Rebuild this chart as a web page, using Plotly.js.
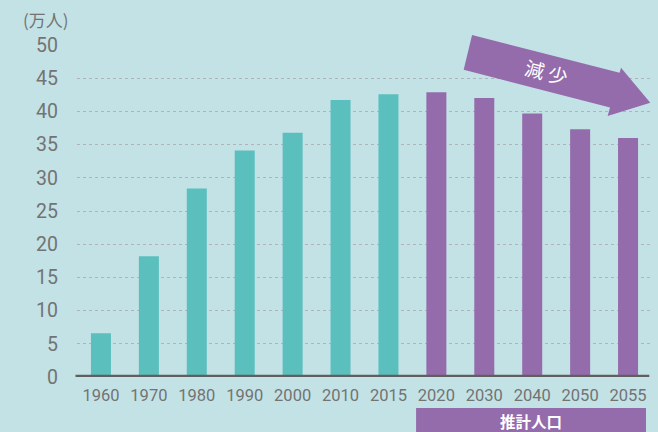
<!DOCTYPE html>
<html>
<head>
<meta charset="utf-8">
<script src="https://cdn.plot.ly/plotly-3.0.1.min.js"></script>
<style>
html,body{margin:0;padding:0;background:#c3e2e6;}
#chart{width:658px;height:432px;}
</style>
</head>
<body>
<div id="chart"></div>
<script>
// ---- data ----
const years = ['1960','1970','1980','1990','2000','2010','2015','2020','2030','2040','2050','2055'];
const population = [6.6, 18.2, 28.4, 34.1, 36.8, 41.7, 42.6, 42.9, 42.0, 39.7, 37.3, 36.0];
const projectionStart = '2020';
const yTickValues = [0, 5, 10, 15, 20, 25, 30, 35, 40, 45, 50];
const yUnitLabel = '(万人)';
const projectionLabel = '推計人口';
const trendLabel = '減少';

// ---- styles ----
const W = 658, H = 432;
const M = {l: 76.5, r: 6.3, t: 44.8, b: 54.7};
const PW = W - M.l - M.r, PH = H - M.t - M.b;
const teal = '#5bbfbe', purple = '#946cac', bg = '#c3e2e6';
const gray = '#737373';
const px = x => (x - M.l) / PW;
const py = y => (H - M.b - y) / PH;

const startIdx = years.indexOf(projectionStart);
const colors = years.map((_, i) => i >= startIdx ? purple : teal);

const arrowPts = [[471.7,34.7],[619.3,72.6],[620.7,67.7],[650,102.7],[607.3,116],[609.7,107.3],[463.3,69.7]];
const arrowPath = 'M ' + arrowPts.map(p => px(p[0]).toFixed(5) + ',' + py(p[1]).toFixed(5)).join(' L ') + ' Z';

const trace = {
  type: 'bar',
  x: years,
  y: population,
  marker: {color: colors, line: {width: 0}},
  hoverinfo: 'x+y'
};

const layout = {
  width: W, height: H,
  margin: M,
  paper_bgcolor: bg,
  plot_bgcolor: bg,
  showlegend: false,
  bargap: 0.5825,
  font: {family: 'Roboto, "Noto Sans CJK JP", sans-serif', color: gray},
  xaxis: {
    type: 'category',
    showgrid: false,
    zeroline: false,
    showline: false,
    ticks: '',
    tickfont: {size: 16.5, color: gray},
    ticklabelstandoff: 6,
    fixedrange: true
  },
  yaxis: {
    range: [0, 50],
    tickvals: yTickValues,
    showgrid: true,
    gridcolor: '#b5b1b9',
    griddash: 'dot',
    gridwidth: 1,
    zeroline: false,
    showline: false,
    ticks: '',
    tickfont: {size: 19.5, color: gray},
    ticklabelstandoff: 18,
    fixedrange: true
  },
  shapes: [
    {type: 'line', xref: 'paper', yref: 'y', x0: px(75), x1: px(649), y0: 0, y1: 0,
     line: {color: '#5f5f5f', width: 4.5}, layer: 'above'},
    {type: 'path', xref: 'paper', yref: 'paper', path: arrowPath,
     fillcolor: purple, line: {width: 0}, layer: 'above'},
    {type: 'rect', xref: 'paper', yref: 'paper', x0: px(415.7), x1: px(645.7), y0: py(408.3), y1: py(440),
     fillcolor: purple, line: {width: 0}, layer: 'above'}
  ],
  annotations: [
    {xref: 'paper', yref: 'paper', x: px(20), y: py(19), xanchor: 'left', yanchor: 'middle',
     text: yUnitLabel, showarrow: false, font: {size: 17, color: gray, family: '"Noto Sans CJK JP", sans-serif'}},
    {xref: 'paper', yref: 'paper', x: px(530.7), y: py(421), xanchor: 'center', yanchor: 'middle',
     text: '<b>' + projectionLabel + '</b>', showarrow: false,
     font: {size: 15.5, color: '#ffffff', family: '"Noto Sans CJK JP", sans-serif'}},
    {xref: 'paper', yref: 'paper', x: px(546), y: py(71), xanchor: 'center', yanchor: 'middle',
     text: trendLabel.split('').join(' '), showarrow: false, textangle: 14.4,
     font: {size: 19.5, color: '#ffffff', family: '"Noto Sans CJK JP", sans-serif'}}
  ]
};

Plotly.newPlot('chart', [trace], layout, {displayModeBar: false, staticPlot: true});
</script>
</body>
</html>
